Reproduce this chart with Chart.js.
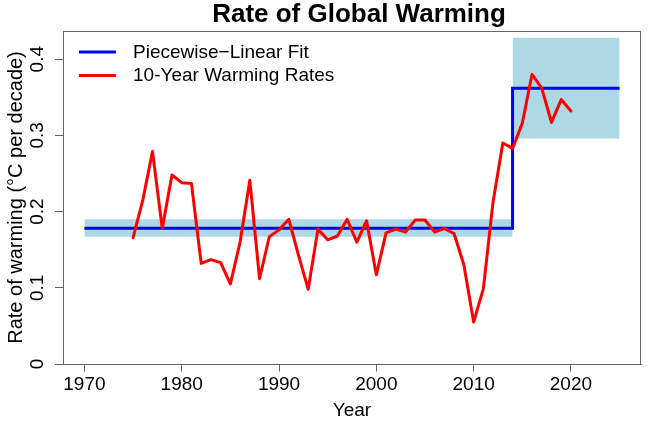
<!DOCTYPE html>
<html>
<head>
<meta charset="utf-8">
<script src="https://cdn.jsdelivr.net/npm/chart.js@4/dist/chart.umd.min.js"></script>
<style>
html,body{margin:0;padding:0;background:#fff;}
canvas{display:block;}
</style>
</head>
<body>
<canvas id="c" width="658" height="430"></canvas>
<script>
// ---- Data ----
const years = [1975,1976,1977,1978,1979,1980,1981,1982,1983,1984,1985,1986,1987,1988,1989,1990,1991,1992,1993,1994,1995,1996,1997,1998,1999,2000,2001,2002,2003,2004,2005,2006,2007,2008,2009,2010,2011,2012,2013,2014,2015,2016,2017,2018,2019,2020];
const rates = [0.166,0.215,0.279,0.178,0.248,0.238,0.237,0.132,0.137,0.133,0.105,0.160,0.241,0.112,0.167,0.176,0.190,0.143,0.098,0.177,0.163,0.168,0.190,0.160,0.188,0.117,0.172,0.177,0.173,0.189,0.189,0.173,0.178,0.171,0.130,0.055,0.099,0.213,0.290,0.283,0.316,0.380,0.362,0.317,0.347,0.332];
const fitYears = [1970, 2014, 2014, 2025];
const fitValues = [0.178, 0.178, 0.362, 0.362];
const band1Years = [1970, 2014];
const band1Upper = [0.190, 0.190];
const band1Lower = [0.167, 0.167];
const band2Years = [2014, 2025];
const band2Upper = [0.428, 0.428];
const band2Lower = [0.296, 0.296];
const xTicks = [1970, 1980, 1990, 2000, 2010, 2020];
const yTicks = [0, 0.1, 0.2, 0.3, 0.4];
const yTickLabels = ['0', '0.1', '0.2', '0.3', '0.4'];
const titleText = 'Rate of Global Warming';
const xTitle = 'Year';
const yTitle = 'Rate of warming (°C per decade)';
const fitLabel = 'Piecewise\u2212Linear Fit';
const rateLabel = '10-Year Warming Rates';

const FONT = "'Liberation Sans', Arial, sans-serif";
Chart.defaults.font.family = FONT;
Chart.defaults.color = '#000';

const pts = (xs, ys) => xs.map((x, i) => ({x: x, y: ys[i]}));
const BAND = '#ADD8E6';

const boxPlugin = {
  id: 'box',
  afterDraw(chart) {
    const {ctx, chartArea: a} = chart;
    ctx.save();
    ctx.strokeStyle = '#666';
    ctx.lineWidth = 1;
    ctx.strokeRect(Math.round(a.left) + 0.5, Math.round(a.top) + 0.5, Math.round(a.right - a.left) - 1, Math.round(a.bottom - a.top));
    ctx.restore();
  }
};

const titlePlugin = {
  id: 'mainTitle',
  afterDraw(chart) {
    const {ctx, chartArea: a} = chart;
    ctx.save();
    ctx.fillStyle = '#000';
    ctx.font = 'bold 26px ' + FONT;
    ctx.textAlign = 'center';
    ctx.textBaseline = 'middle';
    ctx.fillText(titleText, (a.left + a.right) / 2 + 7, 15);
    ctx.restore();
  }
};

const yLabelPlugin = {
  id: 'ylabels',
  afterDraw(chart) {
    const {ctx} = chart;
    const ys = chart.scales.y;
    ctx.save();
    ctx.fillStyle = '#000';
    ctx.font = '19px ' + FONT;
    ctx.textAlign = 'center';
    ctx.textBaseline = 'middle';
    yTicks.forEach((v, i) => {
      const py = ys.getPixelForValue(v);
      ctx.save();
      ctx.translate(37.5, py);
      ctx.rotate(-Math.PI / 2);
      ctx.fillText(yTickLabels[i], 0, 0);
      ctx.restore();
    });
    ctx.restore();
  }
};

const legendPlugin = {
  id: 'customLegend',
  afterDraw(chart) {
    const {ctx, chartArea: a} = chart;
    const items = chart.data.datasets.filter(d => d.inLegend).sort((p, q) => p.legendRank - q.legendRank);
    ctx.save();
    ctx.font = '19px ' + FONT;
    ctx.textAlign = 'left';
    ctx.textBaseline = 'middle';
    items.forEach((d, i) => {
      const yy = a.top + 21 + i * 23.5;
      ctx.strokeStyle = d.borderColor;
      ctx.lineWidth = 3;
      ctx.beginPath();
      ctx.moveTo(a.left + 16, yy);
      ctx.lineTo(a.left + 53, yy);
      ctx.stroke();
      ctx.fillStyle = '#000';
      ctx.fillText(d.label, a.left + 70, yy + 0.5);
    });
    ctx.restore();
  }
};

const bandStyle = {type: 'line', borderWidth: 0, pointRadius: 0, backgroundColor: BAND, borderColor: BAND, tension: 0};

new Chart(document.getElementById('c'), {
  type: 'line',
  data: {
    datasets: [
      {label: rateLabel, data: pts(years, rates), borderColor: '#FF0000', borderWidth: 3, pointRadius: 0, fill: false, tension: 0, order: 0, borderJoinStyle: 'round', borderCapStyle: 'round', inLegend: true, legendRank: 2},
      {label: fitLabel, data: pts(fitYears, fitValues), borderColor: '#0000FF', borderWidth: 3, pointRadius: 0, fill: false, tension: 0, order: 1, borderJoinStyle: 'miter', borderCapStyle: 'butt', inLegend: true, legendRank: 1},
      Object.assign({label: 'band1u', data: pts(band1Years, band1Upper), fill: '+1', order: 2}, bandStyle),
      Object.assign({label: 'band1l', data: pts(band1Years, band1Lower), fill: false, order: 3}, bandStyle),
      Object.assign({label: 'band2u', data: pts(band2Years, band2Upper), fill: '+1', order: 4}, bandStyle),
      Object.assign({label: 'band2l', data: pts(band2Years, band2Lower), fill: false, order: 5}, bandStyle)
    ]
  },
  options: {
    responsive: false,
    animation: false,
    layout: {padding: {left: 0, right: 17, top: 31, bottom: 0}},
    plugins: {
      legend: {display: false},
      tooltip: {enabled: false},
      title: {display: false}
    },
    scales: {
      x: {
        type: 'linear', position: 'bottom', min: 1967.8, max: 2027.2,
        afterBuildTicks: s => { s.ticks = xTicks.map(v => ({value: v})); },
        afterFit: s => { s.height = 66; },
        ticks: {color: '#000', font: {size: 19}, padding: 2, maxRotation: 0, autoSkip: false, callback: v => String(v)},
        grid: {display: true, drawOnChartArea: false, drawTicks: true, tickLength: 7.5, color: '#666', lineWidth: 1},
        border: {display: true, color: '#666', width: 1},
        title: {display: true, text: xTitle, color: '#000', font: {size: 19}, padding: {top: 0, bottom: 8.3}}
      },
      y: {
        type: 'linear', position: 'left', min: 0, max: 0.437,
        afterBuildTicks: s => { s.ticks = yTicks.map(v => ({value: v})); },
        afterFit: s => { s.width = 63; },
        ticks: {display: false},
        grid: {display: true, drawOnChartArea: false, drawTicks: true, tickLength: 8, color: '#666', lineWidth: 1},
        border: {display: true, color: '#666', width: 1},
        title: {display: true, text: yTitle, color: '#000', font: {size: 20}, padding: {top: 4.5, bottom: 0}}
      }
    }
  },
  plugins: [boxPlugin, titlePlugin, yLabelPlugin, legendPlugin]
});
</script>
</body>
</html>
